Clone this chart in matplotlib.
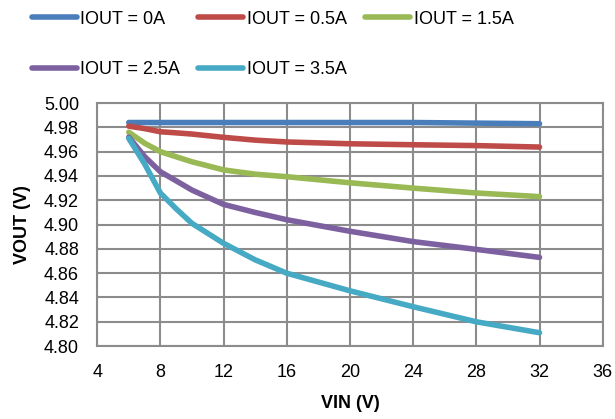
import numpy as np
import matplotlib.pyplot as plt

plt.rcParams['font.family'] = ['Liberation Sans', 'DejaVu Sans']

# input voltage (V)
vin = [6, 7, 8, 9, 10, 12, 14, 16, 20, 24, 28, 32]

# output voltage (V) for each load current
v_0a  = [4.984, 4.984, 4.984, 4.984, 4.984, 4.984, 4.984, 4.984, 4.984, 4.984, 4.9835, 4.983]
v_05a = [4.981, 4.979, 4.9764, 4.9755, 4.9745, 4.9718, 4.9695, 4.968, 4.9665, 4.9657, 4.965, 4.9638]
v_15a = [4.976, 4.967, 4.960, 4.9558, 4.9517, 4.945, 4.9415, 4.9394, 4.9344, 4.930, 4.926, 4.923]
v_25a = [4.972, 4.956, 4.9435, 4.936, 4.9284, 4.9166, 4.910, 4.904, 4.8945, 4.886, 4.8796, 4.873]
v_35a = [4.971, 4.950, 4.926, 4.913, 4.901, 4.8846, 4.871, 4.860, 4.8455, 4.8324, 4.820, 4.811]

labels = ['IOUT = 0A', 'IOUT = 0.5A', 'IOUT = 1.5A', 'IOUT = 2.5A', 'IOUT = 3.5A']
colors = ['#4a7ebb', '#be4b48', '#98b954', '#7d60a0', '#46aac5']

fig = plt.figure(figsize=(6.15, 4.19), dpi=100)
ax = fig.add_axes([0.158, 0.174, 0.822, 0.580])

lines = []
for v, c, lab in zip([v_0a, v_05a, v_15a, v_25a, v_35a], colors, labels):
    l, = ax.plot(vin, v, color=c, lw=4, label=lab, solid_capstyle='round',
                 solid_joinstyle='round')
    lines.append(l)

ax.set_xlim(4, 36)
ax.set_ylim(4.80, 5.00)
ax.set_xticks(np.arange(4, 37, 4))
ax.set_yticks(np.arange(4.80, 5.001, 0.02))
ax.set_yticklabels(['%.2f' % t for t in np.arange(4.80, 5.001, 0.02)])
ax.grid(True, color='#8c8c8c', lw=1.5)
ax.set_axisbelow(True)
for s in ax.spines.values():
    s.set_color('#8c8c8c')
    s.set_linewidth(1.5)
ax.tick_params(length=0, labelsize=13, pad=13)

ax.set_xlabel('VIN (V)', fontsize=13, fontweight='bold', labelpad=10)
ax.set_ylabel('VOUT (V)', fontsize=13, fontweight='bold', labelpad=9)

# reorder so the legend reads row by row
order = [0, 3, 1, 4, 2]
fig.legend([lines[i] for i in order], [labels[i] for i in order],
           loc='upper left', bbox_to_anchor=(0.025, 1.013), ncol=3,
           frameon=False, fontsize=13, handlelength=2.5, handletextpad=0.2,
           columnspacing=1.0, labelspacing=1.85)

plt.savefig('out.png', dpi=100)
